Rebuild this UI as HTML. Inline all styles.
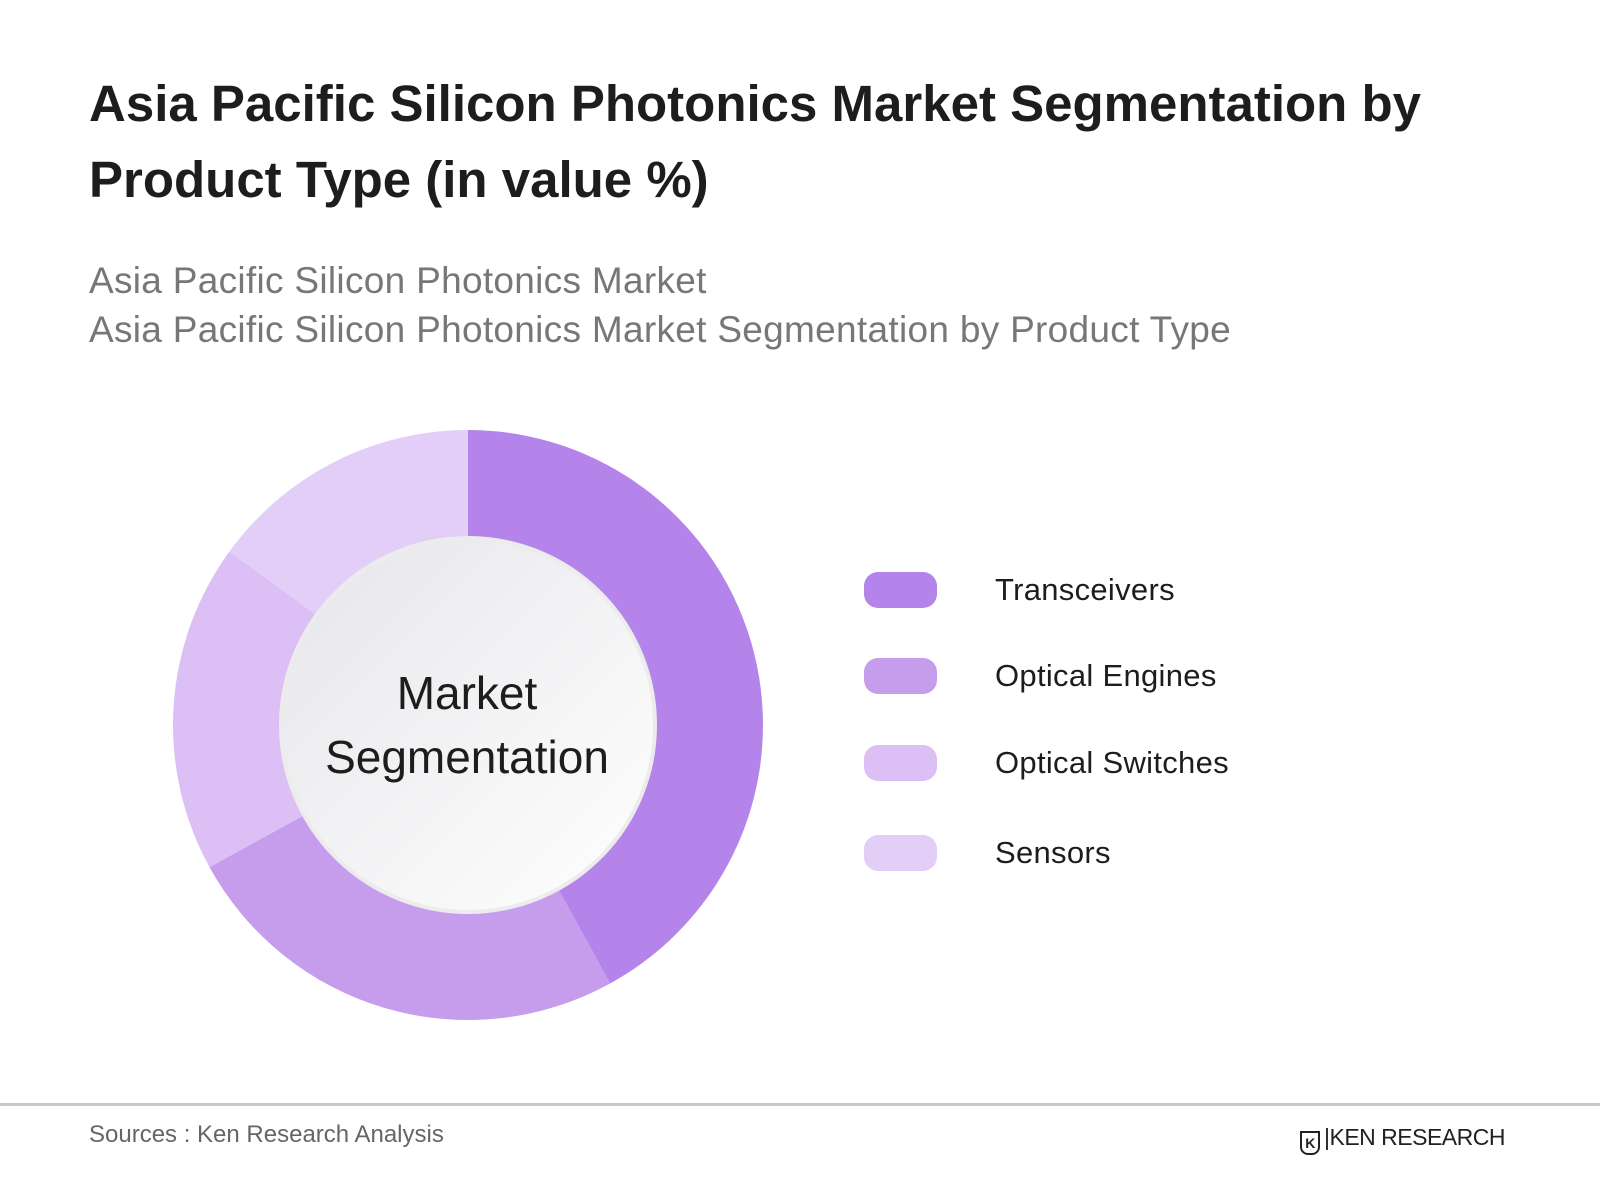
<!DOCTYPE html>
<html><head><meta charset="utf-8"><style>
body{margin:0;width:1600px;height:1200px;background:#fff;font-family:"Liberation Sans",sans-serif;position:relative;overflow:hidden}
.t{position:absolute;left:89px;top:66px;font-size:51px;font-weight:bold;color:#1d1d1d;line-height:76px;letter-spacing:0px}
.s{position:absolute;left:89px;top:256px;font-size:37px;color:#777;line-height:49px;letter-spacing:0.3px}
.lg{position:absolute;left:864px;width:73px;height:36px;border-radius:14px}
.lt{position:absolute;left:995px;font-size:31px;color:#1d1d1d;line-height:36px;letter-spacing:0.3px}
</style></head><body>
<div class="t">Asia Pacific Silicon Photonics Market Segmentation by<br>Product Type (in value %)</div>
<div class="s">Asia Pacific Silicon Photonics Market<br>Asia Pacific Silicon Photonics Market Segmentation by Product Type</div>
<svg id="ch" width="1600" height="1200" style="position:absolute;left:0;top:0">
<defs><linearGradient id="g" x1="0" y1="0" x2="1" y2="1"><stop offset="0" stop-color="#e6e6ea"/><stop offset="1" stop-color="#ffffff"/></linearGradient></defs>
</svg>
<div id="legend"></div>
<div style="position:absolute;left:0;top:1103px;width:1600px;height:3px;background:#c8c8c8"></div>
<div style="position:absolute;left:89px;top:1121px;font-size:24px;color:#666">Sources : Ken Research Analysis</div>
<div style="position:absolute;left:1300px;top:1124px;font-size:23px;color:#222;letter-spacing:-0.5px"><span style="display:inline-block;width:16px;height:20px;border:2px solid #222;border-radius:0 0 8px 8px;vertical-align:-3px;margin-right:4px;font-size:14px;line-height:20px;text-align:center;font-weight:bold">K</span>|KEN RESEARCH</div>
<script>
const categories=["Transceivers","Optical Engines","Optical Switches","Sensors"];
const values=[42,25,18,15];
const colors=["#b484ea","#c69ded","#dbbff5","#e3cef7"];
const svg=document.getElementById('ch');const NS="http://www.w3.org/2000/svg";
const cx=468,cy=725,R=295,r=187;
const total=values.reduce((a,b)=>a+b,0);
function pt(a,rad){return [cx+rad*Math.sin(a),cy-rad*Math.cos(a)];}
let acc=0;
values.forEach((v,i)=>{
 const a0=acc/total*2*Math.PI;acc+=v;const a1=acc/total*2*Math.PI;
 const [x0,y0]=pt(a0,R),[x1,y1]=pt(a1,R);const large=(a1-a0)>Math.PI?1:0;
 const p=document.createElementNS(NS,'path');
 p.setAttribute('d',`M${cx},${cy}L${x0},${y0}A${R},${R} 0 ${large} 1 ${x1},${y1}Z`);
 p.setAttribute('fill',colors[i]);
 
 
 svg.appendChild(p);
});
const c=document.createElementNS(NS,'circle');
c.setAttribute('cx',cx);c.setAttribute('cy',cy);c.setAttribute('r',r);
c.setAttribute('fill','url(#g)');c.setAttribute('stroke','#ececec');c.setAttribute('stroke-width','4');


svg.appendChild(c);
["Market","Segmentation"].forEach((t,i)=>{
 const tx=document.createElementNS(NS,'text');
 tx.setAttribute('x',cx-1);tx.setAttribute('y',cy-16+i*64);tx.setAttribute('text-anchor','middle');
 tx.setAttribute('font-size','46');tx.setAttribute('fill','#1d1d1d');tx.setAttribute('font-family','Liberation Sans, sans-serif');
 tx.textContent=t;
 
 
 svg.appendChild(tx);
});
const lg=document.getElementById('legend');const ys=[572,658,745,835];
categories.forEach((cat,i)=>{
 const s=document.createElement('div');s.className='lg';s.style.top=ys[i]+'px';s.style.background=colors[i];
 
 
 lg.appendChild(s);
 const t=document.createElement('div');t.className='lt';t.style.top=ys[i]+'px';t.textContent=cat;
 
 
 lg.appendChild(t);
});
</script>
</body></html>
